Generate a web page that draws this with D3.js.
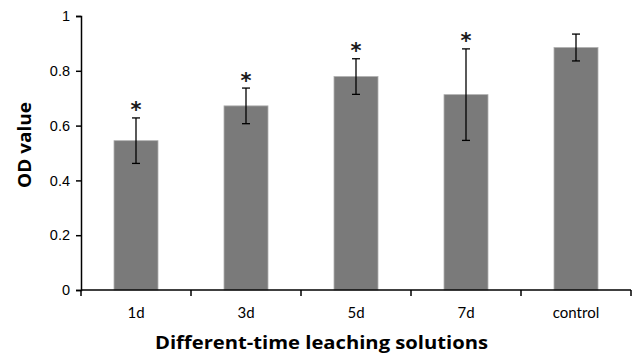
<!DOCTYPE html>
<html>
<head>
<meta charset="utf-8">
<script src="https://cdn.jsdelivr.net/npm/d3@7"></script>
<style>
  body { margin: 0; background: #fff; }
  svg { display: block; font-family: Lato, "Open Sans", sans-serif; }
</style>
</head>
<body>
<script>
// data
const groups = ["1d", "3d", "5d", "7d", "control"];
const odValues = [0.545, 0.672, 0.779, 0.713, 0.885];
const odErrors = [0.083, 0.065, 0.065, 0.167, 0.049];
const marked = [true, true, true, true, false];
const yTicks = [0, 0.2, 0.4, 0.6, 0.8, 1];

const width = 635, height = 356;
const margin = {top: 16, right: 4, bottom: 66, left: 81};

const svg = d3.select("body").append("svg")
  .attr("width", width)
  .attr("height", height);

const x = d3.scaleBand()
  .domain(groups)
  .range([margin.left, width - margin.right])
  .paddingInner(0.6)
  .paddingOuter(0.3);

const y = d3.scaleLinear()
  .domain([0, 1])
  .range([height - margin.bottom, margin.top]);

// bars
svg.append("g")
  .selectAll("rect")
  .data(groups)
  .join("rect")
  .attr("x", d => x(d))
  .attr("y", (d, i) => y(odValues[i]))
  .attr("width", x.bandwidth())
  .attr("height", (d, i) => y(0) - y(odValues[i]))
  .attr("fill", "#7a7a7a")
  .attr("stroke", "#b0b0b0")
  .attr("stroke-width", 0.8);

// error bars
const err = svg.append("g")
  .attr("stroke", "#000")
  .attr("stroke-width", 1.3)
  .selectAll("g")
  .data(groups)
  .join("g")
  .attr("transform", d => `translate(${x(d) + x.bandwidth() / 2},0)`);

err.append("line")
  .attr("y1", (d, i) => y(odValues[i] + odErrors[i]))
  .attr("y2", (d, i) => y(odValues[i] - odErrors[i]));
err.append("line")
  .attr("x1", -4).attr("x2", 4)
  .attr("y1", (d, i) => y(odValues[i] + odErrors[i]))
  .attr("y2", (d, i) => y(odValues[i] + odErrors[i]));
err.append("line")
  .attr("x1", -4).attr("x2", 4)
  .attr("y1", (d, i) => y(odValues[i] - odErrors[i]))
  .attr("y2", (d, i) => y(odValues[i] - odErrors[i]));

// significance stars
svg.append("g")
  .selectAll("text")
  .data(groups.filter((d, i) => marked[i]))
  .join("text")
  .attr("x", d => x(d) + x.bandwidth() / 2)
  .attr("y", d => {
    const i = groups.indexOf(d);
    return y(odValues[i] + odErrors[i]) - 0.5;
  })
  .attr("text-anchor", "middle")
  .attr("font-size", 21)
  .attr("font-weight", "bold")
  .attr("font-family", "DejaVu Sans, sans-serif")
  .attr("fill", "#1a1a1a")
  .text("*");

// y axis
const yAxis = svg.append("g")
  .attr("transform", `translate(${margin.left},0)`)
  .call(d3.axisLeft(y).tickValues(yTicks).tickFormat(d3.format("~g")).tickSize(5).tickPadding(6));
yAxis.select(".domain").attr("stroke-width", 1.5);
yAxis.selectAll(".tick line").attr("stroke-width", 1.5);
yAxis.selectAll("text").attr("font-size", 14.5).attr("fill", "#000");

// x axis: ticks at band boundaries
const xAxis = svg.append("g")
  .attr("transform", `translate(0,${y(0)})`);
xAxis.append("line")
  .attr("x1", margin.left).attr("x2", width - margin.right)
  .attr("stroke", "#000").attr("stroke-width", 1.5);
const step = x.step();
const bounds = groups.map(d => x(d) + x.bandwidth() / 2 - step / 2)
  .concat([x(groups[groups.length - 1]) + x.bandwidth() / 2 + step / 2]);
xAxis.selectAll(".bt")
  .data(bounds)
  .join("line")
  .attr("class", "bt")
  .attr("x1", d => d).attr("x2", d => d)
  .attr("y1", 0).attr("y2", 6)
  .attr("stroke", "#000").attr("stroke-width", 1.5);
xAxis.selectAll("text")
  .data(groups)
  .join("text")
  .attr("x", d => x(d) + x.bandwidth() / 2)
  .attr("y", 28)
  .attr("text-anchor", "middle")
  .attr("font-size", 15)
  .attr("fill", "#000")
  .text(d => d);

// axis titles
svg.append("text")
  .attr("x", 321.5)
  .attr("y", 349)
  .attr("text-anchor", "middle")
  .attr("font-family", "'Open Sans', sans-serif")
  .attr("font-size", 18.5)
  .attr("font-weight", "bold")
  .attr("textLength", 333)
  .attr("lengthAdjust", "spacingAndGlyphs")
  .text("Different-time leaching solutions");

svg.append("text")
  .attr("transform", `translate(31,145) rotate(-90)`)
  .attr("text-anchor", "middle")
  .attr("font-family", "'Open Sans', sans-serif")
  .attr("font-size", 18.5)
  .attr("font-weight", "bold")
  .attr("textLength", 86)
  .attr("lengthAdjust", "spacingAndGlyphs")
  .text("OD value");
</script>
</body>
</html>
